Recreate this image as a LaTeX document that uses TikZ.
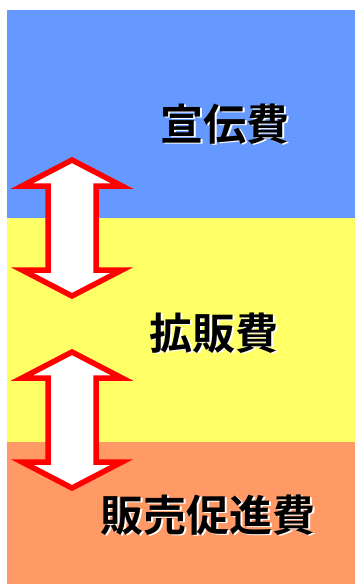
\documentclass[tikz,border=0pt]{standalone}
\usepackage{fontspec}
\newfontfamily\cjk{Noto Sans CJK JP}[BoldFont={Noto Sans CJK JP Bold}]
\definecolor{bandblue}{HTML}{6699FF}
\definecolor{bandyellow}{HTML}{FFFF66}
\definecolor{bandorange}{HTML}{FF9966}
\begin{document}
\begin{tikzpicture}[x=1pt,y=-1pt,
  dblarrow/.style={draw=red,fill=white,line width=5.5pt,line join=miter},
  lbl/.style={font=\cjk\bfseries\fontsize{43}{45}\selectfont,inner sep=0pt,text=black},
  lblshadow/.style={font=\cjk\bfseries\fontsize{43}{45}\selectfont,inner sep=0pt,text=white}]
\useasboundingbox[fill=white] (0,0) rectangle (355,584);
\fill[bandblue] (7,10) rectangle (355,218);
\fill[bandyellow] (7,218) rectangle (355,442);
\fill[bandorange] (7,442) rectangle (355,584);
% arrows
\draw[dblarrow] (72,160) -- (122,186) -- (96,186) -- (96,270) -- (122,270) -- (72,296) -- (22,270) -- (48,270) -- (48,186) -- (22,186) -- cycle;
\draw[dblarrow] (72,352) -- (122,378) -- (96,378) -- (96,462) -- (122,462) -- (72,488) -- (22,462) -- (48,462) -- (48,378) -- (22,378) -- cycle;
% labels
\node[lblshadow] (s1) at (226.5,125.5) {宣伝費};
\node[lbl] (t1) at (225,124) {宣伝費};
\node[lblshadow] (s2) at (215.5,334.5) {拡販費};
\node[lbl] (t2) at (214,333) {拡販費};
\node[lblshadow] (s3) at (209.5,516.5) {販売促進費};
\node[lbl] (t3) at (208,515) {販売促進費};
\end{tikzpicture}
\end{document}
